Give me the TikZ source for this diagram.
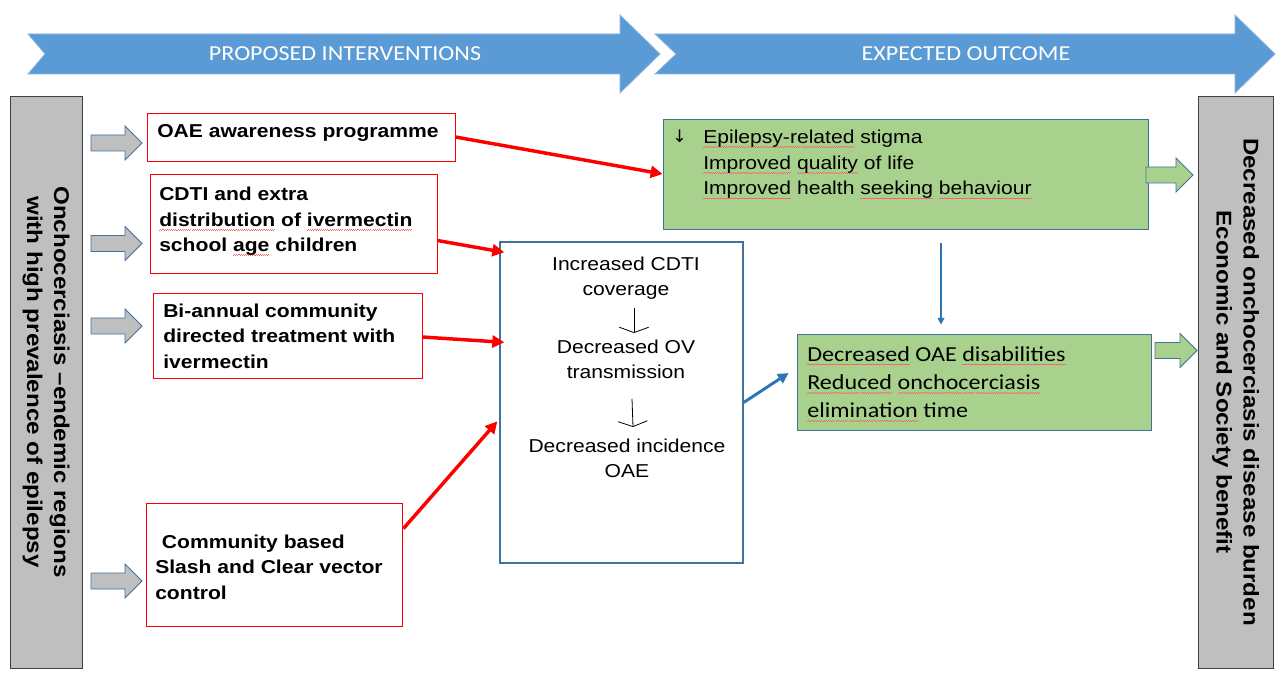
\documentclass[tikz,border=0pt]{standalone}
\usepackage{fontspec}
\setmainfont[FakeStretch=1.13]{Liberation Sans}
\newfontfamily\calfont[FakeStretch=1.13]{Carlito}
\newfontfamily\djv{DejaVu Sans}
\usetikzlibrary{arrows.meta,fit,calc}
\definecolor{topblue}{HTML}{5B9BD5}
\definecolor{topedge}{HTML}{8DB3DE}
\definecolor{edgeblue}{HTML}{41719C}
\definecolor{grayfill}{HTML}{BFBFBF}
\definecolor{smallgray}{HTML}{BFBFBF}
\definecolor{greenfill}{HTML}{A9D18E}
\definecolor{linkblue}{HTML}{2E75B6}
\definecolor{squig}{HTML}{F46A6A}
\newsavebox\sqbox
\newcommand\wavebit{\rule[0pt]{0.8pt}{0.4pt}\rule[0.5pt]{0.8pt}{0.4pt}}
\newcommand\sq[1]{\sbox\sqbox{#1}\leavevmode\rlap{\color{squig}\raisebox{-2.9pt}[0pt][0pt]{\hbox to \wd\sqbox{\xleaders\hbox{\wavebit}\hfill}}}\usebox\sqbox}
\newcommand\blockarrow[4]{%
  \path[#1] (#2,#4-8) -- (#3-17,#4-8) -- (#3-17,#4-17) -- (#3,#4) -- (#3-17,#4+17)
    -- (#3-17,#4+8) -- (#2,#4+8) -- cycle;}
\begin{document}
\begin{tikzpicture}[x=0.75pt,y=-0.75pt,
  redbox/.style={draw=red, line width=0.6pt, fill=white, inner sep=0pt},
  greenbox/.style={draw=edgeblue, line width=0.6pt, fill=greenfill, inner sep=0pt},
  graybox/.style={draw=black!75, line width=0.7pt, fill=grayfill, inner sep=0pt},
  midbox/.style={draw=edgeblue, line width=1pt, fill=white, inner sep=0pt},
  toparrow/.style={fill=topblue, draw=topedge, line width=0.6pt},
  grayarrow/.style={fill=smallgray, draw=edgeblue, line width=0.6pt},
  greenarrow/.style={fill=greenfill, draw=edgeblue, line width=0.6pt},
  toplbl/.style={text=white, inner sep=0pt, font=\calfont\fontsize{16}{19}\selectfont},
  rotlbl/.style={rotate=-90, align=center, inner sep=0pt, font=\bfseries\fontsize{16}{20.25}\selectfont},
  btxt/.style={inner sep=0pt, align=left, font=\bfseries\fontsize{14}{19.1}\selectfont},
  rtxt/.style={inner sep=0pt, align=left, font=\fontsize{14}{19.2}\selectfont},
  ctxt/.style={inner sep=0pt, align=center, font=\fontsize{14}{18.75}\selectfont},
  gtxt/.style={inner sep=0pt, align=left, font=\calfont\fontsize{16}{21.2}\selectfont},
  redarr/.style={draw=red, line width=2.6pt, -{Triangle[length=9pt,width=9pt]}},
  bluearr/.style={draw=linkblue, line width=1.6pt, -{Triangle[length=5pt,width=5pt]}},
  bluearrb/.style={draw=linkblue, line width=2.2pt, -{Triangle[length=8pt,width=8pt]}},
  thinarr/.style={draw=black, line width=0.6pt, -{Straight Barb[length=4pt,width=22pt]}}
]
\useasboundingbox (0,0) rectangle (1280,673);
\fill[white] (0,0) rectangle (1280,673);

% top banner arrows
\path[toparrow] (28,34) -- (620,34) -- (620,15) -- (660,54) -- (620,93) -- (620,74) -- (28,74) -- (45,54) -- cycle;
\path[toparrow] (655,34) -- (1235,34) -- (1235,15) -- (1275,54) -- (1235,93) -- (1235,74) -- (655,74) -- (676,54) -- cycle;
\node[toplbl] (t1) at (345,54) {PROPOSED INTERVENTIONS};
\node[toplbl] (t2) at (966,54) {EXPECTED OUTCOME};

% side boxes
\node[graybox, fit={(10,96)(82,668)}] (lbox) {};
\node[graybox, fit={(1198,96)(1273,668)}] (rbox) {};
\node[rotlbl] (ltxt) at (lbox.center) {Onchocerciasis –endemic regions\\with high prevalence of epilepsy};
\node[rotlbl] (rtxt) at (rbox.center) {Decreased onchocerciasis disease burden\\Economic and Society benefit};

% intervention boxes
\node[redbox, fit={(147,113)(455,161)}] (oae) {};
\node[redbox, fit={(150,174)(437,273)}] (cdti) {};
\node[redbox, fit={(153,293)(422,378)}] (bia) {};
\node[redbox, fit={(146,503)(402,626)}] (slash) {};

% middle and outcome boxes
\node[midbox, fit={(500,242)(743,563)}] (mid) {};
\node[greenbox, fit={(663,119)(1148,229)}] (g1) {};
\node[greenbox, fit={(797,334)(1151,430)}] (g2) {};

% small block arrows
\blockarrow{grayarrow}{91}{142}{143}
\blockarrow{grayarrow}{91}{142}{243.5}
\blockarrow{grayarrow}{91}{142}{326}
\blockarrow{grayarrow}{91}{142}{581}
\blockarrow{greenarrow}{1146}{1193}{175}
\blockarrow{greenarrow}{1155}{1197}{350.5}

% texts
\node[btxt, anchor=base west] (toae) at (157,138) {OAE awareness programme};
\node[btxt, anchor=north west] (tcdti) at (159,187) {CDTI and extra\\\sq{distribution} of \sq{ivermectin}\\school \sq{age} children};
\node[btxt, anchor=north west] (tbia) at (163,303.5) {Bi-annual community\\directed treatment with\\ivermectin};
\node[btxt, anchor=north west] (tslash) at (155,534.5) {\hspace*{5pt}Community based\\Slash and Clear vector\\control};

\node[ctxt, anchor=north] (c1) at (626,257) {Increased CDTI\\coverage};
\node[ctxt, anchor=north] (c2) at (626,339.5) {Decreased OV\\transmission};
\node[ctxt, anchor=north] (c3) at (627,439) {Decreased incidence\\OAE};
\draw[thinarr] ($(c1.south)+(8,8)$) -- ($(c2.north)+(8,-6.5)$);
\draw[thinarr] ($(c2.south)+(6,20)$) -- ($(c3.north)+(6,-12)$);

\node[inner sep=0pt, anchor=base west, font=\djv\fontsize{13}{15}\selectfont] (down) at (672,143) {↓};
\node[rtxt, anchor=north west] (tg1) at (703,130) {\sq{Epilepsy-related} stigma\\\sq{Improved} \sq{quality} of life\\\sq{Improved} health \sq{seeking} \sq{behaviour}};
\node[gtxt, anchor=north west] (tg2) at (807,346) {\sq{Decreased} OAE \sq{disabilities}\\\sq{Reduced} \sq{onchocerciasis}\\\sq{elimination} time};

% connectors
\draw[redarr] (oae.east) -- (g1.west);
\draw[redarr] ($(cdti.east)+(0,17)$) -- ($(mid.north west)+(5,11)$);
\draw[redarr] ($(bia.east)+(0,1.5)$) -- ($(mid.north west)+(5,101)$);
\draw[redarr] ($(slash.north east)+(1,26)$) -- ($(mid.north west)+(-2,180)$);
\draw[bluearr] ($(g1.south)+(35.5,14)$) -- ($(g2.north)+(-33,-9)$);
\draw[bluearrb] (mid.east) -- ($(g2.west)+(-8,-9)$);
\end{tikzpicture}
\end{document}
